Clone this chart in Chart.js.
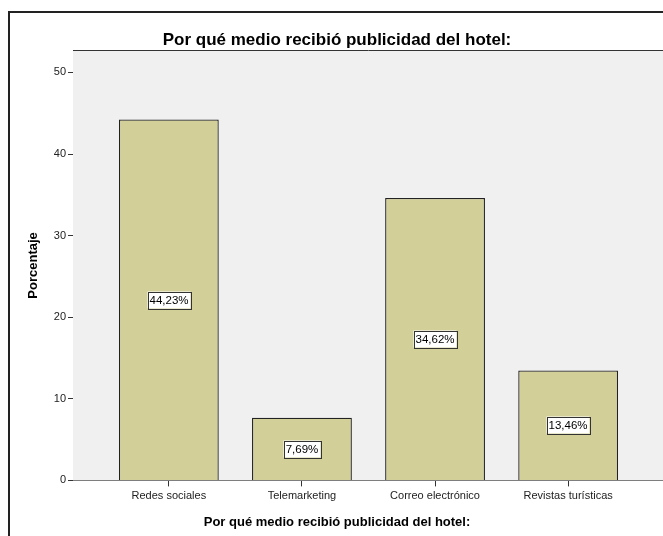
<!DOCTYPE html>
<html>
<head>
<meta charset="utf-8">
<script src="https://cdn.jsdelivr.net/npm/chart.js@4"></script>
<style>
  html, body { margin: 0; padding: 0; background: #fff; overflow: hidden; }
  #marco { position: absolute; left: 8px; top: 11px; border-left: 2px solid #222; border-top: 2px solid #222; }
  #grafico { display: block; }
</style>
</head>
<body>
<div id="marco"><canvas id="grafico" width="654" height="523"></canvas></div>
<script>
// datos
const categorias = ['Redes sociales', 'Telemarketing', 'Correo electrónico', 'Revistas turísticas'];
const porcentajes = [44.23, 7.69, 34.62, 13.46];
const ticksY = [0, 10, 20, 30, 40, 50];
const titulo = 'Por qué medio recibió publicidad del hotel:';
const tituloY = 'Porcentaje';

const fuente = 'Liberation Sans, Arial, sans-serif';

// fondo gris del área de trazado + línea superior
const fondoPlugin = {
    id: 'fondo',
    beforeDatasetsDraw(chart) {
        const { ctx, chartArea: a } = chart;
        ctx.save();
        ctx.fillStyle = '#f0f0f0';
        ctx.fillRect(a.left, a.top, a.right - a.left, a.bottom - a.top);
        ctx.strokeStyle = '#333';
        ctx.lineWidth = 1;
        ctx.beginPath();
        ctx.moveTo(a.left, Math.round(a.top) + 0.5);
        ctx.lineTo(a.right, Math.round(a.top) + 0.5);
        ctx.stroke();
        ctx.restore();
    }
};

// etiquetas con recuadro blanco en el centro de cada barra
const etiquetasPlugin = {
    id: 'etiquetas',
    afterDatasetsDraw(chart) {
        const { ctx } = chart;
        const yScale = chart.scales.y;
        const meta = chart.getDatasetMeta(0);
        ctx.save();
        ctx.font = '11.5px ' + fuente;
        ctx.textAlign = 'center';
        ctx.textBaseline = 'middle';
        meta.data.forEach((bar, i) => {
            const texto = porcentajes[i].toFixed(2).replace('.', ',') + '%';
            const cx = Math.round(bar.x);
            const cy = Math.round(yScale.getPixelForValue(porcentajes[i] / 2));
            const w = Math.round(ctx.measureText(texto).width) + 4;
            const h = 17;
            ctx.fillStyle = '#fff';
            ctx.fillRect(cx - w / 2, cy - h / 2, w, h);
            ctx.strokeStyle = '#333';
            ctx.lineWidth = 1;
            ctx.strokeRect(Math.round(cx - w / 2) + 0.5, Math.round(cy - h / 2) + 0.5, w, h);
            ctx.fillStyle = '#000';
            ctx.fillText(texto, cx, cy + 1);
        });
        ctx.restore();
    }
};

const ctx = document.getElementById('grafico').getContext('2d');
new Chart(ctx, {
    type: 'bar',
    data: {
        datasets: [{
            label: tituloY,
            data: categorias.map((c, i) => ({ x: i, y: porcentajes[i] })),
            backgroundColor: '#d3cf98',
            borderColor: '#222',
            borderWidth: 1.3,
            borderSkipped: 'bottom',
            barPercentage: 0.75,
            categoryPercentage: 1
        }]
    },
    options: {
        responsive: false,
        animation: false,
        devicePixelRatio: 1,
        layout: { padding: 0 },
        plugins: {
            legend: { display: false },
            tooltip: { enabled: false },
            title: {
                display: true,
                text: titulo,
                color: '#000',
                font: { family: fuente, size: 17, weight: 'bold' },
                padding: { top: 17, bottom: 0 }
            },
            subtitle: {
                display: true,
                position: 'bottom',
                text: titulo,
                color: '#000',
                font: { family: fuente, size: 13, weight: 'bold' },
                padding: { top: 8, bottom: 6 }
            }
        },
        scales: {
            x: {
                type: 'linear',
                offset: false,
                min: -0.72,
                max: 3.72,
                afterBuildTicks: s => { s.ticks = categorias.map((_, i) => ({ value: i })); },
                afterFit: s => { s.height = 26; },
                ticks: {
                    callback: v => categorias[v],
                    color: '#222',
                    font: { family: fuente, size: 11 },
                    padding: 3,
                    maxRotation: 0,
                    autoSkip: false,
                    includeBounds: false
                },
                grid: { offset: false, drawOnChartArea: false, tickLength: 6, color: '#333' },
                border: { color: '#333', width: 1 }
            },
            y: {
                min: 0,
                max: 52.7,
                afterBuildTicks: s => { s.ticks = ticksY.map(v => ({ value: v })); },
                afterFit: s => { s.width = 63; },
                ticks: {
                    color: '#222',
                    font: { family: fuente, size: 11 },
                    padding: 2,
                    includeBounds: false
                },
                grid: { drawOnChartArea: false, tickLength: 5, color: '#333' },
                border: { color: '#333', width: 1 },
                title: {
                    display: true,
                    text: tituloY,
                    color: '#000',
                    font: { family: fuente, size: 13, weight: 'bold' },
                    padding: { top: 16, bottom: 0 }
                }
            }
        }
    },
    plugins: [fondoPlugin, etiquetasPlugin]
});
</script>
</body>
</html>
